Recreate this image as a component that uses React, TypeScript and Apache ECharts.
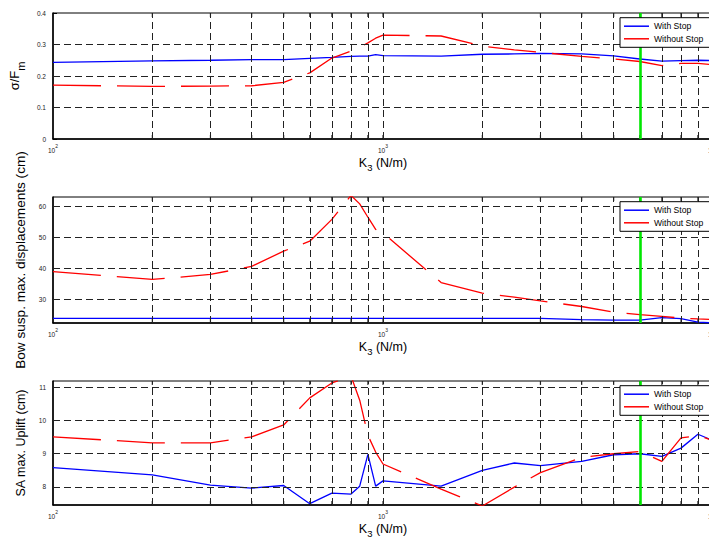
import React, { useEffect, useRef } from "react";
import * as echarts from "echarts";

// K3 stiffness values (N/m)
const kValues = [100, 200, 300, 400, 500, 600, 700, 800, 850, 900, 950, 1000, 1500, 2000, 2500, 3000, 4000, 5000, 6000, 7000, 8000, 9000, 10000];

// Panel 1: sigma / F_m
const stressWith = [0.243, 0.248, 0.25, 0.252, 0.252, 0.256, 0.259, 0.262, 0.263, 0.263, 0.268, 0.265, 0.263, 0.269, 0.27, 0.272, 0.27, 0.264, 0.254, 0.247, 0.249, 0.25, 0.249];
const stressWithout = [0.171, 0.167, 0.168, 0.169, 0.18, 0.21, 0.257, 0.279, 0.291, 0.305, 0.32, 0.33, 0.327, 0.295, 0.283, 0.275, 0.262, 0.254, 0.246, 0.233, 0.24, 0.24, 0.236];

// Panel 2: bow suspension max displacements (cm)
const bowWith = [24.0, 24.0, 24.0, 24.0, 24.0, 24.0, 24.0, 24.0, 24.0, 24.0, 24.0, 24.0, 24.0, 24.0, 24.0, 24.0, 23.6, 23.4, 23.4, 24.2, 23.9, 22.8, 22.5];
const bowWithout = [39.0, 36.5, 38.1, 40.7, 45.6, 48.8, 55.8, 63.5, 60.8, 56.5, 52.6, 51.4, 35.5, 32.1, 30.8, 29.6, 27.8, 26.0, 25.2, 24.6, 24.1, 23.8, 23.6];

// Panel 3: SA max uplift (cm)
const upliftWith = [8.58, 8.36, 8.05, 7.96, 8.04, 7.49, 7.81, 7.78, 8.02, 8.98, 8.02, 8.18, 8.02, 8.5, 8.72, 8.64, 8.77, 8.97, 9.0, 8.92, 9.17, 9.59, 9.4];
const upliftWithout = [9.51, 9.33, 9.33, 9.51, 9.87, 10.69, 11.14, 11.35, 10.62, 9.56, 9.05, 8.69, 7.93, 7.42, 7.99, 8.43, 8.89, 9.0, 9.07, 8.77, 9.48, 9.55, 9.4];

// grid / tick values
const xGridValues = [200, 300, 400, 500, 600, 700, 800, 900, 1000, 2000, 3000, 4000, 5000, 6000, 7000, 8000, 9000];
const stopK = 6000;
const stressTicks = [0, 0.1, 0.2, 0.3, 0.4];
const bowTicks = [30, 40, 50, 60];
const upliftTicks = [8, 9, 10, 11];

const FONT = "'Liberation Sans', Arial, Helvetica, sans-serif";

export default function App() {
  const ref = useRef<HTMLDivElement>(null);

  useEffect(() => {
    if (!ref.current) return;
    const chart = echarts.init(ref.current, null, { renderer: "svg" });

    const panels = [
      { top: 13, min: 0, max: 0.4, ticks: stressTicks, w: stressWith, wo: stressWithout, name: "{a|σ/F}{sub|m}", nameGap: 17, nameSize: 12.5, legendTop: 17.7 },
      { top: 197, min: 22.5, max: 63, ticks: bowTicks, w: bowWith, wo: bowWithout, name: "Bow susp. max. displacements (cm)", nameGap: 14, nameSize: 13.6, legendTop: 201.7 },
      { top: 381, min: 7.45, max: 11.2, ticks: upliftTicks, w: upliftWith, wo: upliftWithout, name: "SA max. Uplift (cm)", nameGap: 14, nameSize: 12.5, legendTop: 385.7 },
    ];
    const H = 126;

    const grid: any[] = [];
    const xAxis: any[] = [];
    const yAxis: any[] = [];
    const series: any[] = [];
    const legend: any[] = [];

    panels.forEach((p, i) => {
      grid.push({ left: 53, right: 17, top: p.top, height: H, show: true, borderColor: "#000", borderWidth: 1, backgroundColor: "transparent" });
      xAxis.push({
        type: "log",
        logBase: 10,
        min: 100,
        max: 10000,
        gridIndex: i,
        axisLine: { show: true, lineStyle: { color: "#000", width: 1.5 } },
        axisTick: { show: false },
        splitLine: { show: false },
        axisLabel: {
          margin: 4,
          color: "#222",
          formatter: (v: number) => `{b|10}{s|${Math.round(Math.log10(v))}}`,
          rich: {
            b: { fontFamily: FONT, fontSize: 6.5, lineHeight: 7, verticalAlign: "bottom", color: "#222" },
            s: { fontFamily: FONT, fontSize: 5, lineHeight: 11, verticalAlign: "top", color: "#222" },
          },
        },
        name: "{a|K}{sub|3}{a| (N/m)}",
        nameLocation: "middle",
        nameGap: 17,
        nameTextStyle: {
          rich: {
            a: { fontFamily: FONT, fontSize: 12.5, lineHeight: 12, verticalAlign: "top", color: "#000" },
            sub: { fontFamily: FONT, fontSize: 9.5, lineHeight: 16, verticalAlign: "bottom", color: "#000" },
          },
        },
      });
      yAxis.push({
        type: "value",
        gridIndex: i,
        min: p.min,
        max: p.max,
        axisLine: { show: true, lineStyle: { color: "#000", width: 1.5 } },
        axisTick: { show: true, inside: true, length: 4, customValues: p.ticks, lineStyle: { color: "#000" } },
        axisLabel: { customValues: p.ticks, fontFamily: FONT, fontSize: 6.5, color: "#222", margin: 7 },
        splitLine: { show: false },
        name: p.name,
        nameLocation: "middle",
        nameGap: p.nameGap,
        nameRotate: 90,
        nameTextStyle: {
          fontFamily: FONT,
          fontSize: p.nameSize,
          color: "#000",
          rich: {
            a: { fontFamily: FONT, fontSize: 13, lineHeight: 13, verticalAlign: "top", color: "#000" },
            sub: { fontFamily: FONT, fontSize: 11, lineHeight: 18, verticalAlign: "bottom", color: "#000" },
          },
        },
      });

      const inner = p.ticks.filter((t) => t > p.min && t < p.max);
      // dashed grid
      series.push({
        type: "line",
        xAxisIndex: i,
        yAxisIndex: i,
        data: [],
        z: 1,
        silent: true,
        markLine: {
          silent: true,
          symbol: ["none", "none"],
          label: { show: false },
          lineStyle: { color: "#222", width: 1, type: [7, 4] },
          data: [...xGridValues.map((k) => ({ xAxis: k })), ...inner.map((v) => ({ yAxis: v }))],
        },
      });
      // minor ticks on bottom and top
      series.push({
        type: "scatter",
        xAxisIndex: i,
        yAxisIndex: i,
        silent: true,
        symbol: "rect",
        symbolSize: [1.2, 4],
        symbolOffset: [0, -2],
        itemStyle: { color: "#000" },
        data: xGridValues.map((k) => [k, p.min]),
        z: 2,
      });
      series.push({
        type: "scatter",
        xAxisIndex: i,
        yAxisIndex: i,
        silent: true,
        symbol: "rect",
        symbolSize: [1.2, 4],
        symbolOffset: [0, 2],
        itemStyle: { color: "#000" },
        data: xGridValues.map((k) => [k, p.max]),
        z: 2,
      });
      series.push({
        name: "With Stop",
        type: "line",
        xAxisIndex: i,
        yAxisIndex: i,
        symbol: "none",
        showSymbol: false,
        z: 3,
        lineStyle: { color: "#0000ff", width: 1.3 },
        itemStyle: { color: "#0000ff" },
        data: kValues.map((k, j) => [k, p.w[j]]),
      });
      series.push({
        name: "Without Stop",
        type: "line",
        xAxisIndex: i,
        yAxisIndex: i,
        symbol: "none",
        showSymbol: false,
        z: 3,
        lineStyle: { color: "#ff0000", width: 1.3, type: [48, 16] },
        itemStyle: { color: "#ff0000" },
        data: kValues.map((k, j) => [k, p.wo[j]]),
      });
      // green stop line
      series.push({
        type: "line",
        xAxisIndex: i,
        yAxisIndex: i,
        data: [],
        z: 4,
        silent: true,
        markLine: {
          silent: true,
          symbol: ["none", "none"],
          label: { show: false },
          lineStyle: { color: "#00e600", width: 2.6, type: "solid" },
          data: [{ xAxis: stopK }],
        },
      });
      legend.push({
        left: 620,
        top: p.legendTop,
        orient: "vertical",
        selectedMode: false,
        backgroundColor: "#fff",
        borderColor: "#000",
        borderWidth: 1,
        padding: [3, 40, 3, 4],
        itemGap: 1.6,
        itemWidth: 25,
        itemHeight: 1.5,
        icon: "rect",
        textStyle: { fontFamily: FONT, fontSize: 8.6, lineHeight: 11, color: "#000" },
        data: [
          { name: "With Stop", itemStyle: { color: "#0000ff" } },
          { name: "Without Stop", itemStyle: { color: "#ff0000" } },
        ],
        z: 10,
      });
    });

    chart.setOption({
      animation: false,
      backgroundColor: "#fff",
      textStyle: { fontFamily: FONT },
      grid,
      xAxis,
      yAxis,
      legend,
      series,
    });

    return () => chart.dispose();
  }, []);

  return (
    <div style={{ position: "fixed", left: 0, top: 0, width: 709, height: 539, overflow: "hidden", background: "#fff" }}>
      <div ref={ref} style={{ width: 730, height: 539 }} />
    </div>
  );
}
